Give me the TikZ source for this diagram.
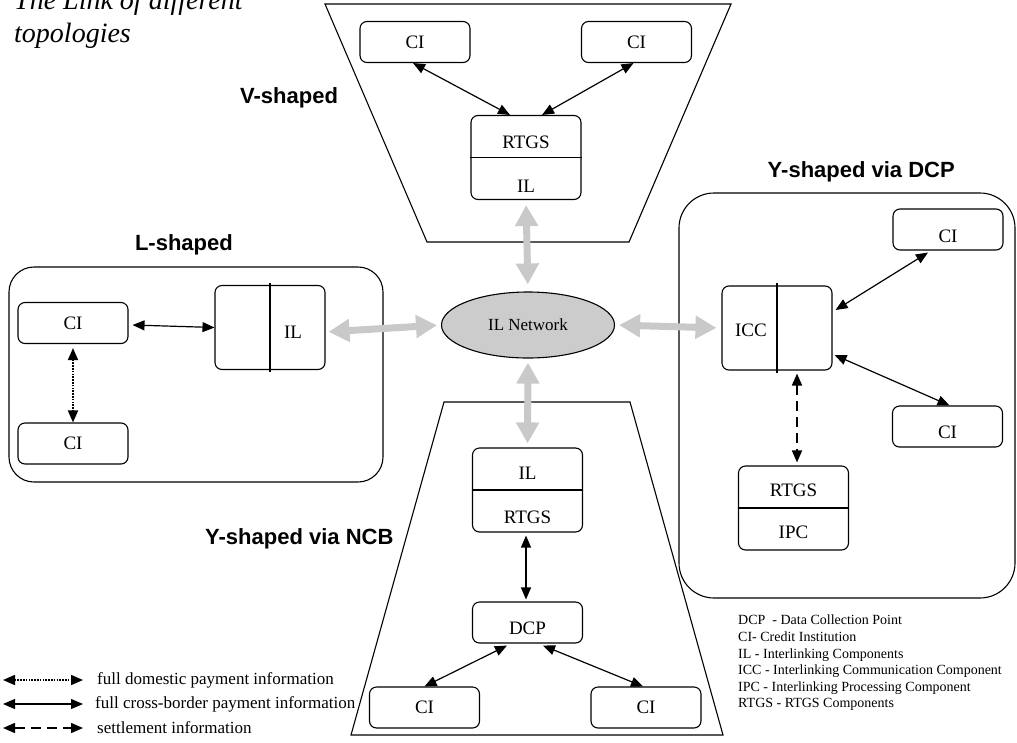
\documentclass[tikz,border=0pt]{standalone}
\usepackage{fontspec}
\setmainfont{Liberation Serif}
\setsansfont{Liberation Sans}
\usetikzlibrary{arrows.meta,shapes.geometric}

\begin{document}
\begin{tikzpicture}[x=1pt,y=-1pt,
  outline/.style={draw,line width=1.1pt},
  box/.style={draw,line width=1.1pt,rounded corners=7pt,inner sep=0pt,
    minimum width=110pt,minimum height=41pt,font=\fontsize{19}{22}\selectfont},
  tallbox/.style={box,minimum height=84pt},
  boxtext/.style={inner sep=0pt,font=\fontsize{19}{22}\selectfont},
  grouplabel/.style={inner sep=0pt,font=\sffamily\bfseries\fontsize{22}{26}\selectfont},
  link/.style={line width=1.2pt,{Triangle[length=12pt,width=10pt]}-{Triangle[length=12pt,width=10pt]}},
  domestic/.style={link,dash pattern=on 1.6pt off 1.2pt,line width=1.8pt},
  settle/.style={link,dash pattern=on 10pt off 6pt,line width=1.6pt},
  netlink/.style={line width=7pt,draw=black!21,
    {Triangle[length=21pt,width=22pt]}-{Triangle[length=21pt,width=22pt]}},
  legendtext/.style={anchor=base west,inner sep=0pt,font=\fontsize{17}{20}\selectfont}]

\useasboundingbox (0,0) rectangle (1017,742);

% title
\node[anchor=north west,align=left,inner sep=0pt,
  font=\itshape\fontsize{28}{33}\selectfont] (title) at (14,-10)
  {The Link of different\\topologies};

% ---------- V-shaped ----------
\draw[outline] (325,4) -- (731,4) -- (629,242) -- (427,242) -- cycle;
\node[grouplabel,anchor=base west] (vlab) at (240,103) {V-shaped};
\node[box] (vciL) at (415,42) {CI};
\node[box] (vciR) at (636.5,42) {CI};
\node[tallbox] (vbox) at (526,157.5) {};
\draw[line width=1.1pt] (vbox.west) -- (vbox.east);
\node[boxtext] (vrtgs) at (526,142) {RTGS};
\node[boxtext] (vil) at (526,186) {IL};
\draw[link] ([xshift=-2]vciL.south) -- ([xshift=-16]vbox.north);
\draw[link] ([xshift=-3]vciR.south) -- ([xshift=16]vbox.north);

% ---------- L-shaped ----------
\draw[outline,rounded corners=25pt] (9,267) rectangle (383,482);
\node[grouplabel,anchor=base east] (llab) at (233,250) {L-shaped};
\node[box] (lci1) at (73,323) {CI};
\node[box] (lci2) at (73,443.5) {CI};
\node[tallbox] (lil) at (270,327.5) {};
\draw[line width=1.1pt] ([yshift=2]lil.north) -- ([yshift=-2]lil.south);
\node[boxtext] (liltext) at (293,332) {IL};
\draw[link] ([xshift=4,yshift=-2]lci1.east) -- (lil.west);
\draw[domestic] ([yshift=-4]lci1.south) -- (lci2.north);

% ---------- IL network ----------
\node[ellipse,draw,line width=1.1pt,fill=black!20,minimum width=173pt,
  minimum height=66pt,inner sep=0pt,font=\fontsize{17}{20}\selectfont]
  (net) at (528,325) {IL Network};

% ---------- Y-shaped via DCP ----------
\draw[outline,rounded corners=35pt] (679,193) rectangle (1015,598);
\node[grouplabel,anchor=base east] (dlab) at (955,177) {Y-shaped via DCP};
\node[tallbox] (icc) at (777,328) {};
\draw[line width=1.1pt] ([yshift=2]icc.north) -- ([yshift=-2]icc.south);
\node[boxtext] (icctext) at (751,330) {ICC};
\node[box] (ciTR) at (948,229.5) {};
\node[boxtext] (ciTRt) at (948,236) {CI};
\node[box] (ciBR) at (947.5,426.5) {};
\node[boxtext] (ciBRt) at (947.5,432) {CI};
\node[tallbox] (ipc) at (793.5,508) {};
\draw[line width=1.1pt] (ipc.west) -- (ipc.east);
\node[boxtext] (ipcrtgs) at (793.5,490) {RTGS};
\node[boxtext] (ipctext) at (793.5,532) {IPC};
\draw[link] ([xshift=-20,yshift=-2]ciTR.south) -- ([xshift=3]icc.north east |- 0,310);
\draw[link] ([xshift=2]icc.east |- 0,355) -- ([xshift=2]ciBR.north);
\draw[settle] ([yshift=-3]icc.south -| 797,0) -- ([yshift=3]ipc.north -| 797,0);

% ---------- Y-shaped via NCB ----------
\draw[outline] (444,402) -- (630,402) -- (723,735) -- (351,735) -- cycle;
\node[grouplabel,anchor=base west] (nlab) at (205,544) {Y-shaped via NCB};
\node[tallbox] (bil) at (527.5,490) {};
\draw[line width=1.1pt] (bil.west) -- (bil.east);
\node[boxtext] (biltext) at (527.5,473) {IL};
\node[boxtext] (bilrtgs) at (527.5,517) {RTGS};
\node[box] (dcp) at (527.5,622.5) {};
\node[boxtext] (dcptext) at (527.5,628) {DCP};
\node[box] (bciL) at (424.5,707.5) {CI};
\node[box] (bciR) at (646,707.5) {CI};
\draw[link] ([xshift=-1.5,yshift=-3]bil.south) -- ([xshift=-1.5,yshift=2]dcp.north);
\draw[link] ([xshift=-20.5,yshift=-2]dcp.south) -- (bciL.north);
\draw[link] ([xshift=15.5,yshift=-2]dcp.south) -- ([xshift=-3]bciR.north);

% ---------- links to the IL network ----------
\draw[netlink,shorten <=5pt,shorten >=7pt] (vbox.south) -- (net.north);
\draw[netlink,shorten <=4pt,shorten >=4pt] (net.south) -- (bil.north);
\draw[netlink,shorten <=3pt,shorten >=4pt] ([yshift=-4.5]lil.east) -- (net.west);
\draw[netlink,shorten <=4pt,shorten >=5pt] (net.east) -- (icc.west);

% ---------- legend ----------
\coordinate (lg1a) at (3,680);  \coordinate (lg1b) at (83,680);
\coordinate (lg2a) at (3,704);  \coordinate (lg2b) at (83,704);
\coordinate (lg3a) at (3,728);  \coordinate (lg3b) at (83,728);
\draw[domestic] (lg1a) -- (lg1b);
\draw[link] (lg2a) -- (lg2b);
\draw[settle] (lg3a) -- (lg3b);
\node[legendtext] (lt1) at (97,684) {full domestic payment information};
\node[legendtext] (lt2) at (95,708) {full cross-border payment information};
\node[legendtext] (lt3) at (97,733) {settlement information};

% ---------- abbreviations ----------
\node[anchor=north west,align=left,inner sep=0pt,
  font=\fontsize{14}{16.6}\selectfont] (abbr) at (738,615)
  {DCP\ \ - Data Collection Point\\
   CI- Credit Institution\\
   IL - Interlinking Components\\
   ICC - Interlinking Communication Component\\
   IPC - Interlinking Processing Component\\
   RTGS - RTGS Components};
\end{tikzpicture}
\end{document}
